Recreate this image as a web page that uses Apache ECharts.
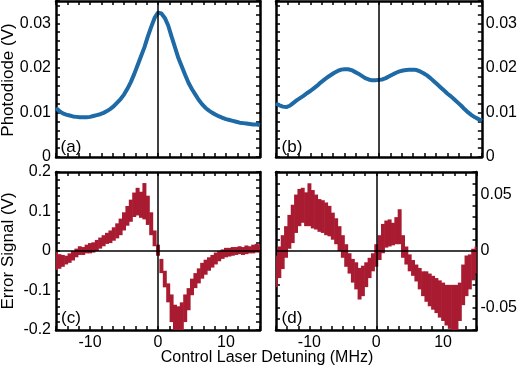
<!DOCTYPE html>
<html>
<head>
<meta charset="utf-8">
<script src="https://cdn.jsdelivr.net/npm/echarts@6/dist/echarts.min.js"></script>
<style>
  html, body { margin: 0; padding: 0; background: #fff; }
  #chart { width: 520px; height: 368px; }
</style>
</head>
<body>
<div id="chart"></div>
<script>
// detuning in MHz, shared by all four panels
const detuning = [
  -15, -14.5, -14, -13.5, -13, -12.5, -12, -11.5, -11, -10.5,
  -10, -9.5, -9, -8.5, -8, -7.5, -7, -6.5, -6, -5.5,
  -5, -4.5, -4, -3.5, -3, -2.5, -2, -1.5, -1, -0.5,
  0, 0.5, 1, 1.5, 2, 2.5, 3, 3.5, 4, 4.5,
  5, 5.5, 6, 6.5, 7, 7.5, 8, 8.5, 9, 9.5,
  10, 10.5, 11, 11.5, 12, 12.5, 13, 13.5, 14, 14.5,
  15
];

// (a) photodiode (V)
const photodiodeA = [
  0.0110, 0.0103, 0.0098, 0.0095, 0.0093, 0.0091, 0.0090, 0.0089, 0.0089, 0.0089,
  0.0090, 0.0092, 0.0094, 0.0096, 0.0099, 0.0103, 0.0108, 0.0114, 0.0122, 0.0130,
  0.0140, 0.0153, 0.0168, 0.0186, 0.0206, 0.0226, 0.0246, 0.0270, 0.0292, 0.0312,
  0.0324, 0.0322, 0.0312, 0.0295, 0.0270, 0.0246, 0.0222, 0.0203, 0.0184, 0.0166,
  0.0152, 0.0140, 0.0128, 0.0118, 0.0110, 0.0104, 0.0099, 0.0095, 0.0091, 0.0088,
  0.0085, 0.0083, 0.0081, 0.0079, 0.0077, 0.0076, 0.0075, 0.0074, 0.0073, 0.0073,
  0.0072
];

// (b) photodiode (V)
const photodiodeB = [
  0.0120, 0.0116, 0.0113, 0.0112, 0.0115, 0.0121, 0.0127, 0.0132, 0.0137, 0.0143,
  0.0148, 0.0154, 0.0160, 0.0167, 0.0173, 0.0179, 0.0184, 0.0189, 0.0193, 0.0196,
  0.0197, 0.0197, 0.0195, 0.0191, 0.0187, 0.0182, 0.0177, 0.0174, 0.0172, 0.0172,
  0.0173, 0.0174, 0.0177, 0.0181, 0.0185, 0.0189, 0.0192, 0.0194, 0.0195, 0.0196,
  0.0196, 0.0195, 0.0192, 0.0188, 0.0183, 0.0177, 0.0170, 0.0163, 0.0156, 0.0149,
  0.0142, 0.0136, 0.0129, 0.0122, 0.0115, 0.0107, 0.0100, 0.0094, 0.0089, 0.0085,
  0.0081
];

// (c) error signal (V): upper and lower edge of the noisy band
const errorCHigh = [
  -0.002, -0.008, -0.010, -0.012, -0.006, 0.000, 0.006, 0.012, 0.010, 0.016,
  0.020, 0.022, 0.028, 0.034, 0.040, 0.046, 0.052, 0.060, 0.070, 0.082,
  0.098, 0.114, 0.130, 0.148, 0.160, 0.150, 0.172, 0.140, 0.098, 0.052,
  0.016, -0.020, -0.050, -0.082, -0.110, -0.136, -0.140, -0.130, -0.110, -0.094,
  -0.070, -0.056, -0.044, -0.030, -0.022, -0.016, -0.010, -0.004, 0.000, 0.004,
  0.008, 0.008, 0.010, 0.010, 0.012, 0.010, 0.014, 0.012, 0.016, 0.018,
  0.016
];
const errorCLow = [
  -0.048, -0.045, -0.040, -0.034, -0.030, -0.024, -0.016, -0.010, -0.010, -0.006,
  -0.006, -0.004, 0.000, 0.006, 0.012, 0.018, 0.020, 0.026, 0.032, 0.040,
  0.052, 0.064, 0.074, 0.086, 0.090, 0.084, 0.080, 0.066, 0.040, 0.012,
  -0.012, -0.056, -0.092, -0.130, -0.180, -0.215, -0.215, -0.215, -0.180, -0.150,
  -0.112, -0.094, -0.082, -0.070, -0.060, -0.050, -0.042, -0.034, -0.026, -0.020,
  -0.016, -0.014, -0.012, -0.010, -0.008, -0.010, -0.008, -0.006, -0.006, -0.004,
  -0.004
];

// (d) error signal (V)
const errorDHigh = [
  -0.004, 0.004, 0.014, 0.022, 0.032, 0.041, 0.050, 0.055, 0.056, 0.052,
  0.060, 0.054, 0.050, 0.046, 0.045, 0.043, 0.040, 0.034, 0.029, 0.022,
  0.014, 0.006, -0.002, -0.007, -0.010, -0.015, -0.013, -0.010, -0.006, -0.002,
  0.006, 0.014, 0.024, 0.027, 0.028, 0.025, 0.030, 0.037, 0.014, 0.004,
  -0.003, -0.008, -0.012, -0.015, -0.018, -0.018, -0.020, -0.022, -0.024, -0.026,
  -0.028, -0.030, -0.030, -0.030, -0.030, -0.028, -0.012, -0.004, -0.003, 0.002,
  0.004
];
const errorDLow = [
  -0.032, -0.024, -0.016, -0.006, 0.002, 0.007, 0.016, 0.022, 0.025, 0.022,
  0.022, 0.020, 0.019, 0.017, 0.016, 0.014, 0.013, 0.010, 0.006, 0.000,
  -0.006, -0.014, -0.020, -0.028, -0.034, -0.043, -0.040, -0.032, -0.024, -0.018,
  -0.014, -0.008, -0.002, 0.003, 0.004, 0.005, 0.006, 0.006, -0.006, -0.012,
  -0.018, -0.022, -0.027, -0.034, -0.040, -0.045, -0.049, -0.052, -0.055, -0.059,
  -0.062, -0.066, -0.069, -0.072, -0.072, -0.062, -0.048, -0.040, -0.034, -0.026,
  -0.020
];

const xLabels = [-10, 0, 10];
const panelLabels = ['(a)', '(b)', '(c)', '(d)'];

const FONT = 'Liberation Sans';
const BLUE = '#1d6aa6';
const RED = '#a81b31';

const grids = [
  { left: 56, top: 1, width: 204, height: 156 },
  { left: 276, top: 1, width: 206, height: 156 },
  { left: 56, top: 172, width: 204, height: 158 },
  { left: 276, top: 172, width: 206, height: 158 }
];

const frame = { show: true, onZero: false, lineStyle: { color: '#000', width: 2.5 } };
const tickStyle = { color: '#000', width: 1.5 };
const labelStyle = { color: '#000', fontSize: 16, fontFamily: FONT };

function xAxes(g, showLabels) {
  const base = {
    type: 'value', gridIndex: g, min: -15, max: 15, interval: 5,
    axisLine: frame,
    axisTick: { inside: true, length: 4, lineStyle: tickStyle },
    minorTick: { show: true, splitNumber: 3, length: 4, lineStyle: tickStyle },
    splitLine: { show: false }
  };
  return [
    Object.assign({}, base, {
      position: 'bottom',
      axisLabel: Object.assign({
        show: showLabels, margin: 5,
        formatter: v => (xLabels.includes(v) ? String(v) : '')
      }, labelStyle)
    }),
    Object.assign({}, base, { position: 'top', axisLabel: { show: false } })
  ];
}

function yAxes(g, range, labelSide) {
  const base = {
    type: 'value', gridIndex: g, min: range.min, max: range.max, interval: range.interval,
    axisLine: frame,
    axisTick: { inside: true, length: 4, lineStyle: tickStyle },
    minorTick: { show: range.minor > 0, splitNumber: range.minor || 1, length: 4, lineStyle: tickStyle },
    splitLine: { show: false }
  };
  return ['left', 'right'].map(side => Object.assign({}, base, {
    position: side,
    axisLabel: Object.assign({
      show: side === labelSide, margin: side === 'left' ? 5 : 4,
      formatter: range.format
    }, labelStyle)
  }));
}

const topRange = {
  min: 0, max: 0.035, interval: 0.01, minor: 5,
  format: v => (v > 0.034 ? '' : (v === 0 ? '0' : v.toFixed(2)))
};
const cRange = {
  min: -0.2, max: 0.2, interval: 0.1, minor: 5,
  format: v => (Math.abs(v) < 1e-9 ? '0' : v.toFixed(1))
};
const dRange = {
  min: -0.07, max: 0.07, interval: 0.01, minor: 0,
  format: v => {
    const k = Math.round(v * 100);
    if (k % 5 !== 0) return '';
    return k === 0 ? '0' : (k / 100).toFixed(2);
  }
};

const zeroLines = (withHorizontal) => ({
  silent: true, symbol: 'none', animation: false,
  label: { show: false },
  lineStyle: { color: '#000', width: 1.5, type: 'solid' },
  emphasis: { disabled: true },
  data: withHorizontal ? [{ xAxis: 0 }, { yAxis: 0 }] : [{ xAxis: 0 }]
});

function bandItem(params, api) {
  const x = api.value(0);
  const top = api.coord([x, api.value(2)]);
  const bottom = api.coord([x, api.value(1)]);
  const w = api.size([0.5, 0])[0] + 0.6;
  const cs = params.coordSys;
  const rect = echarts.graphic.clipRectByRect(
    { x: top[0] - w / 2, y: top[1], width: w, height: bottom[1] - top[1] },
    { x: cs.x, y: cs.y, width: cs.width, height: cs.height }
  );
  return rect && { type: 'rect', shape: rect, style: { fill: RED } };
}

function lineSeries(g, values) {
  return {
    type: 'line', xAxisIndex: 2 * g, yAxisIndex: 2 * g,
    data: detuning.map((x, i) => [x, values[i]]),
    showSymbol: false, smooth: false,
    lineStyle: { color: BLUE, width: 4 },
    markLine: zeroLines(false)
  };
}

function bandSeries(g, low, high) {
  return {
    type: 'custom', xAxisIndex: 2 * g, yAxisIndex: 2 * g,
    data: detuning.map((x, i) => [x, low[i], high[i]]),
    encode: { x: 0, y: [1, 2] },
    renderItem: bandItem,
    markLine: zeroLines(true)
  };
}

const text = (str, x, y, size, rotation) => ({
  type: 'text', x: x, y: y, rotation: rotation || 0, silent: true,
  style: {
    text: str, fill: '#000', fontSize: size, fontFamily: FONT,
    textAlign: 'center', align: 'center',
    textVerticalAlign: 'middle', verticalAlign: 'middle'
  }
});

const chart = echarts.init(document.getElementById('chart'));
chart.setOption({
  animation: false,
  grid: grids,
  xAxis: [].concat(xAxes(0, false), xAxes(1, false), xAxes(2, true), xAxes(3, true)),
  yAxis: [].concat(yAxes(0, topRange, 'left'), yAxes(1, topRange, 'right'),
                   yAxes(2, cRange, 'left'), yAxes(3, dRange, 'right')),
  series: [
    lineSeries(0, photodiodeA),
    lineSeries(1, photodiodeB),
    bandSeries(2, errorCLow, errorCHigh),
    bandSeries(3, errorDLow, errorDHigh)
  ],
  graphic: [
    text('Photodiode (V)', 8, 80, 17, Math.PI / 2),
    text('Error Signal (V)', 8, 251, 17, Math.PI / 2),
    text('Control Laser Detuning (MHz)', 267, 358, 16),
    text(panelLabels[0], 71, 147, 17),
    text(panelLabels[1], 292, 147, 17),
    text(panelLabels[2], 71, 318, 17),
    text(panelLabels[3], 292, 318, 17)
  ]
});
</script>
</body>
</html>
